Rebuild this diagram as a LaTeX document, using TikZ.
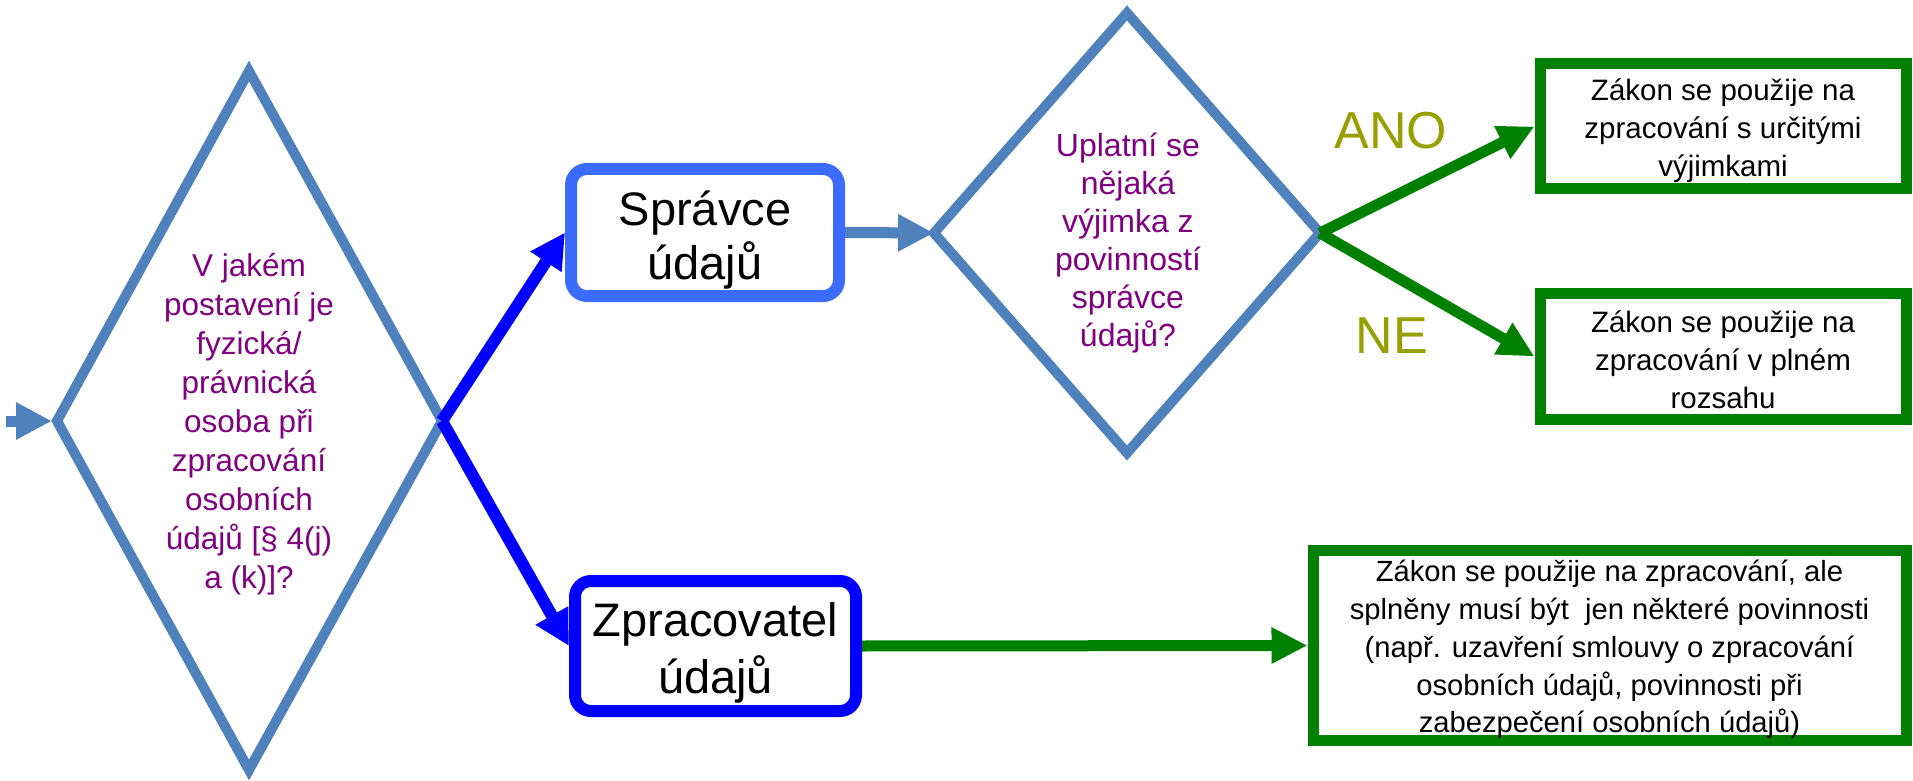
\documentclass[tikz,border=0pt]{standalone}
\usepackage{fontspec}
\setmainfont{Liberation Sans}
\usetikzlibrary{arrows.meta}
\definecolor{steel}{RGB}{79,129,189}
\definecolor{sprblue}{RGB}{59,108,255}
\definecolor{pureblue}{RGB}{0,0,255}
\definecolor{dkgreen}{RGB}{0,128,0}
\definecolor{qpurple}{RGB}{128,0,128}
\definecolor{olive}{RGB}{150,160,0}
\begin{document}
\begin{tikzpicture}[x=0.5pt,y=-0.5pt,
  dia/.style={draw=steel,line width=5pt,line join=miter},
  qtext/.style={text=qpurple,align=center,font=\fontsize{15.75pt}{19.5pt}\selectfont},
  bigbox/.style={draw=#1,line width=6pt,rounded corners=8pt,fill=white,inner sep=0pt},
  bigtext/.style={align=center,inner sep=0pt,font=\fontsize{23.5pt}{27pt}\selectfont},
  resbox/.style={draw=dkgreen,line width=5.5pt,fill=white,inner sep=0pt},
  restext/.style={align=center,inner sep=0pt,font=\fontsize{14.75pt}{18.9pt}\selectfont},
  steelarrow/.style={draw=steel,line width=5.5pt,-{Triangle[length=18pt,width=17.5pt]}},
  bluearrow/.style={draw=pureblue,line width=6pt,-{Triangle[length=17.5pt,width=17.5pt]}},
  greenarrow/.style={draw=dkgreen,line width=5.5pt,-{Triangle[length=18pt,width=17pt]}},
  answer/.style={text=olive,font=\fontsize{26pt}{30pt}\selectfont}
]
\useasboundingbox (0,0) rectangle (1913,781);

% diamond 1
\coordinate (d1n) at (249,71);
\coordinate (d1e) at (442,421);
\coordinate (d1s) at (249,770);
\coordinate (d1w) at (57,421);
\draw[dia] (d1n) -- (d1e) -- (d1s) -- (d1w) -- cycle;
\node[qtext] (d1t) at (249,424) {V jakém\\postavení je\\fyzická/\\právnická\\osoba při\\zpracování\\osobních\\údajů [§ 4(j)\\a (k)]?};

% diamond 2
\coordinate (d2n) at (1127,13);
\coordinate (d2e) at (1320,233);
\coordinate (d2s) at (1127,453);
\coordinate (d2w) at (934,233);
\draw[dia] (d2n) -- (d2e) -- (d2s) -- (d2w) -- cycle;
\node[qtext,font=\fontsize{16pt}{19pt}\selectfont] (d2t) at (1128,243) {Uplatní se\\nějaká\\výjimka z\\povinností\\správce\\údajů?};

% boxes
\node[bigbox=sprblue,minimum width=134pt,minimum height=63.5pt] (spr) at (705,232.5) {};
\node[bigtext] (sprt) at ([yshift=-4pt]spr.center) {Správce\\údajů};
\node[bigbox=pureblue,minimum width=140.5pt,minimum height=65pt] (zpr) at (715.5,646) {};
\node[bigtext,font=\fontsize{23.5pt}{28.5pt}\selectfont] (zprt) at ([yshift=-3.5pt]zpr.center) {Zpracovatel\\údajů};

\node[resbox,minimum width=183pt,minimum height=62.5pt] (boxA) at (1723,126.5) {};
\node[restext] (boxAt) at ([yshift=-2pt]boxA.center) {Zákon se použije na\\zpracování s určitými\\výjimkami};
\node[resbox,minimum width=183pt,minimum height=63pt] (boxB) at (1723,356.5) {};
\node[restext] (boxBt) at ([yshift=-1.5pt]boxB.center) {Zákon se použije na\\zpracování v plném\\rozsahu};
\node[resbox,minimum width=296.5pt,minimum height=95pt] (boxC) at (1609.5,645.5) {};
\node[restext,font=\fontsize{14.6pt}{18.9pt}\selectfont] (boxCt) at ([yshift=-2pt]boxC.center)
  {Zákon se použije na zpracování, ale\\splněny musí být\ \ jen některé povinnosti\\(např. uzavření smlouvy o zpracování\\osobních údajů, povinnosti při\\zabezpečení osobních údajů)};

% connectors
\coordinate (start) at (6,421);
\draw[steelarrow,shorten >=2.5pt] (start) -- (d1w);
\draw[bluearrow] (d1e) -- (spr.west);
\draw[bluearrow] (d1e) -- (zpr.west);
\draw[steelarrow] (spr.east) -- (d2w);
\draw[greenarrow] (d2e) -- (boxA.west);
\draw[greenarrow] (d2e) -- (boxB.west);
\draw[greenarrow] (zpr.east) -- (boxC.west);

% answers
\node[answer] (ano) at (1391,131) {ANO};
\node[answer] (ne) at (1392,336) {NE};
\end{tikzpicture}
\end{document}
